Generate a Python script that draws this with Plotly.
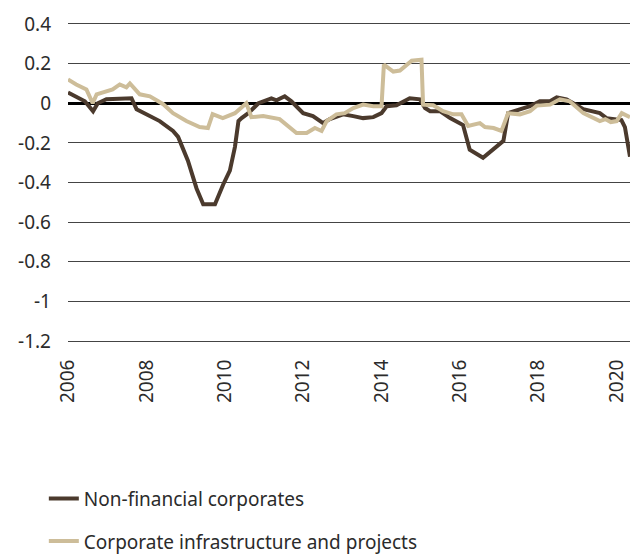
import plotly.graph_objects as go

# Non-financial corporates (dark line)
nfc_x = [2006.0, 2006.43, 2006.64, 2006.76, 2006.98, 2007.62, 2007.75, 2008.09, 2008.34,
         2008.68, 2008.81, 2009.06, 2009.28, 2009.45, 2009.75, 2009.96, 2010.13, 2010.26,
         2010.35, 2010.43, 2010.6, 2010.86, 2010.98, 2011.19, 2011.32, 2011.53, 2011.7,
         2012.0, 2012.25, 2012.51, 2012.68, 2013.02, 2013.28, 2013.53, 2013.79, 2014.0,
         2014.13, 2014.38, 2014.72, 2014.98, 2015.11, 2015.24, 2015.49, 2015.75, 2016.08,
         2016.25, 2016.59, 2016.85, 2017.11, 2017.23, 2017.53, 2017.79, 2018.04, 2018.3,
         2018.47, 2018.72, 2018.98, 2019.15, 2019.57, 2019.74, 2020.12, 2020.21, 2020.34]
nfc_y = [0.054, 0.01, -0.04, 0.0, 0.02, 0.025, -0.03, -0.065, -0.09,
         -0.14, -0.17, -0.29, -0.43, -0.51, -0.51, -0.41, -0.34, -0.22,
         -0.09, -0.075, -0.05, 0.0, 0.01, 0.025, 0.015, 0.035, 0.01,
         -0.05, -0.065, -0.10, -0.08, -0.056, -0.065, -0.075, -0.07, -0.05,
         -0.015, -0.01, 0.025, 0.02, -0.024, -0.04, -0.04, -0.075, -0.11,
         -0.235, -0.275, -0.235, -0.19, -0.05, -0.032, -0.015, 0.01, 0.01,
         0.03, 0.02, -0.01, -0.03, -0.05, -0.075, -0.085, -0.12, -0.27]

# Corporate infrastructure and projects (light line)
cip_x = [2006.0, 2006.21, 2006.47, 2006.63, 2006.73, 2006.98, 2007.14, 2007.32, 2007.49,
         2007.58, 2007.83, 2008.09, 2008.43, 2008.68, 2009.02, 2009.36, 2009.57, 2009.69,
         2009.95, 2010.26, 2010.55, 2010.68, 2010.98, 2011.4, 2011.62, 2011.83, 2012.09,
         2012.3, 2012.47, 2012.6, 2012.85, 2013.06, 2013.28, 2013.53, 2013.79, 2014.0,
         2014.06, 2014.3, 2014.47, 2014.77, 2015.02, 2015.06, 2015.32, 2015.57, 2015.83,
         2016.04, 2016.21, 2016.51, 2016.64, 2016.86, 2017.06, 2017.23, 2017.53, 2017.79,
         2017.96, 2018.3, 2018.55, 2018.8, 2019.15, 2019.57, 2019.71, 2019.85, 2020.0,
         2020.13, 2020.34]
cip_y = [0.12, 0.095, 0.07, 0.0, 0.045, 0.06, 0.07, 0.095, 0.08,
         0.10, 0.045, 0.035, -0.005, -0.05, -0.09, -0.12, -0.125, -0.055,
         -0.075, -0.05, 0.0, -0.07, -0.065, -0.08, -0.115, -0.15, -0.15,
         -0.125, -0.14, -0.09, -0.056, -0.05, -0.024, -0.007, -0.015, -0.015,
         0.195, 0.16, 0.165, 0.215, 0.22, -0.007, -0.01, -0.04, -0.056,
         -0.056, -0.115, -0.10, -0.12, -0.125, -0.14, -0.05, -0.056, -0.04,
         -0.012, -0.007, 0.02, 0.01, -0.05, -0.09, -0.08, -0.095, -0.09,
         -0.05, -0.07]

y_ticks = [0.4, 0.2, 0, -0.2, -0.4, -0.6, -0.8, -1, -1.2]
y_labels = ["0.4", "0.2", "0", "-0.2", "-0.4", "-0.6", "-0.8", "-1", "-1.2"]
x_ticks = [2006, 2008, 2010, 2012, 2014, 2016, 2018, 2020]

fig = go.Figure()
fig.add_trace(go.Scatter(x=nfc_x, y=nfc_y, mode="lines", name="Non-financial corporates",
                         line=dict(color="#4b3a2d", width=4), legendgroup="a"))
fig.add_trace(go.Scatter(x=cip_x, y=cip_y, mode="lines", name="Corporate infrastructure and projects",
                         line=dict(color="#cdbd99", width=4), legendgroup="b"))

fig.update_layout(
    width=633, height=554,
    margin=dict(l=68, r=3, t=24, b=213, autoexpand=False),
    plot_bgcolor="white", paper_bgcolor="white",
    font=dict(family="Noto Sans", size=19, color="#2b2b2b"),
    showlegend=True,
    legend=dict(x=-0.043, y=-0.437, xanchor="left", yanchor="top",
                traceorder="grouped", tracegroupgap=15, font=dict(size=19, color="#2b2b2b"),
                bgcolor="rgba(0,0,0,0)"),
)
fig.update_xaxes(range=[2006, 2020.34], tickvals=x_ticks, tickangle=-90,
                 showgrid=False, zeroline=False, showline=True, mirror=True,
                 linecolor="#444444", linewidth=1, ticklabelstandoff=10)
fig.update_yaxes(range=[-1.2, 0.4], tickvals=y_ticks, ticktext=y_labels,
                 showgrid=True, gridcolor="#444444", gridwidth=1,
                 zeroline=True, zerolinecolor="black", zerolinewidth=2.5,
                 showline=False, ticklabelstandoff=16)

# drop the default 8px page margin so the figure fills the window
fig.write_html("out.html", config={"displayModeBar": False},
               post_script="document.body.style.margin='0';document.body.style.overflow='hidden';")
